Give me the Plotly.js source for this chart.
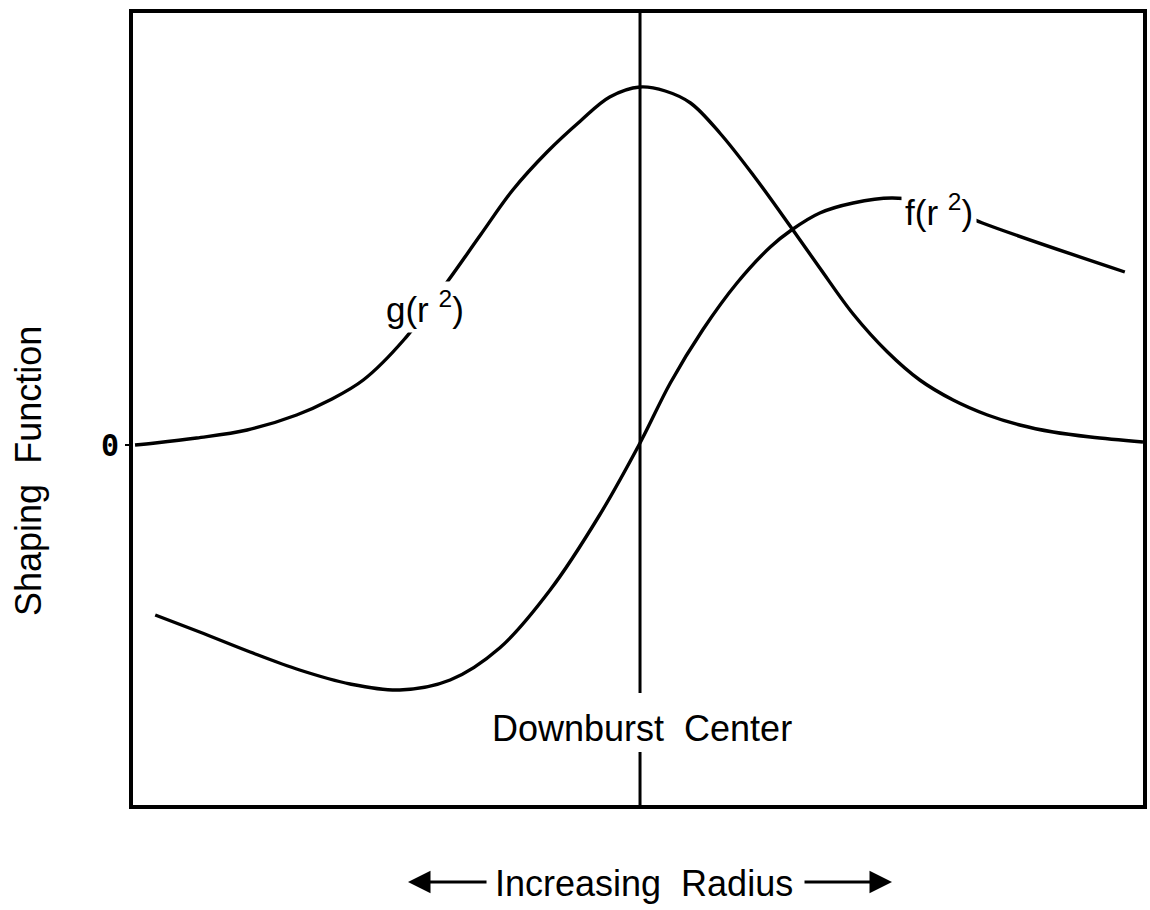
<!DOCTYPE html>
<html>
<head>
<meta charset="utf-8">
<script src="https://cdn.plot.ly/plotly-3.0.1.min.js"></script>
<style>html,body{margin:0;padding:0;background:#fff;}#chart{width:1150px;height:910px;}</style>
</head>
<body>
<div id="chart"></div>
<script>
// Radius relative to downburst center (arbitrary units)
const gRadius = [-50.0, -48.0, -43.9, -38.9, -34.0, -30.7, -27.4, -23.4, -19.1, -15.8, -12.6, -9.2, -5.9, -3.0, 0, 2.5, 5.0, 7.9, 11.2, 15.0, 17.8, 21.1, 24.5, 27.7, 31.0, 34.4, 37.6, 40.9, 44.6, 49.8];
const gValues = [0, 0.01, 0.035, 0.075, 0.15, 0.225, 0.325, 0.525, 0.815, 1.05, 1.275, 1.465, 1.62, 1.74, 1.79, 1.77, 1.71, 1.56, 1.35, 1.085, 0.885, 0.655, 0.465, 0.325, 0.225, 0.15, 0.10, 0.065, 0.04, 0.015];
const fRadius = [-48.0, -43.6, -38.6, -33.7, -28.7, -23.8, -18.8, -13.9, -8.9, -4.0, 0, 3.0, 6.2, 9.6, 12.9, 15.0, 17.8, 21.1, 25.0, 29.6, 33.9, 48.0];
const fValues = [-0.85, -0.935, -1.035, -1.125, -1.195, -1.225, -1.175, -1.015, -0.725, -0.35, 0.01, 0.31, 0.575, 0.81, 0.99, 1.075, 1.16, 1.21, 1.235, 1.20, 1.11, 0.865];
const yTickVals = [0];
const yTickText = ['0'];
const centerX = 0;

const font = 'Liberation Sans, Arial, sans-serif';
const lineStyle = {color: '#000', width: 3.4, shape: 'spline', smoothing: 1.0};

const traces = [
  {x: gRadius, y: gValues, mode: 'lines', line: lineStyle, name: 'g(r²)', hoverinfo: 'skip'},
  {x: fRadius, y: fValues, mode: 'lines', line: lineStyle, name: 'f(r²)', hoverinfo: 'skip'}
];

const layout = {
  width: 1150, height: 910,
  margin: {l: 133, r: 7, t: 13, b: 105},
  paper_bgcolor: '#fff', plot_bgcolor: '#fff',
  showlegend: false,
  xaxis: {range: [-50.2, 49.8], showgrid: false, zeroline: false, showticklabels: false, ticks: '',
          showline: true, mirror: true, linecolor: '#000', linewidth: 4},
  yaxis: {range: [-1.8, 2.16], showgrid: false, zeroline: false,
          tickvals: yTickVals, ticktext: yTickText, ticks: 'outside', ticklen: 4, tickwidth: 2, tickcolor: '#000',
          ticklabelstandoff: 0,
          tickfont: {family: 'DejaVu Sans Mono', size: 30, color: '#000', weight: 'bold'},
          showline: true, mirror: true, linecolor: '#000', linewidth: 4},
  shapes: [
    {type: 'line', xref: 'x', yref: 'y', x0: centerX, x1: centerX, y0: 2.16, y1: -1.24, line: {color: '#000', width: 3}},
    {type: 'line', xref: 'x', yref: 'y', x0: centerX, x1: centerX, y0: -1.535, y1: -1.8, line: {color: '#000', width: 3}}
  ],
  annotations: [
    {x: -21.3, y: 0.69, xref: 'x', yref: 'y', text: 'g(r <sup>2</sup>)', showarrow: false, bgcolor: '#fff', borderpad: 3,
     font: {family: font, size: 35, color: '#000'}},
    {x: 29.6, y: 1.175, xref: 'x', yref: 'y', text: 'f(r <sup>2</sup>)', showarrow: false, bgcolor: '#fff', borderpad: 3,
     font: {family: font, size: 35, color: '#000'}},
    {x: 0.2, y: -1.415, xref: 'x', yref: 'y', text: 'Downburst  Center', showarrow: false,
     font: {family: font, size: 36, color: '#000'}},
    {x: 0.506, y: -0.0997, xref: 'paper', yref: 'paper', xanchor: 'center', yanchor: 'middle', text: 'Increasing  Radius', showarrow: false,
     font: {family: font, size: 36, color: '#000'}},
    {x: 0.2723, y: -0.0972, xref: 'paper', yref: 'paper', text: '', showarrow: true, ax: 80, ay: 0,
     arrowhead: 2, arrowsize: 1.5, arrowwidth: 3, arrowcolor: '#000'},
    {x: 0.7515, y: -0.0972, xref: 'paper', yref: 'paper', text: '', showarrow: true, ax: -89, ay: 0,
     arrowhead: 2, arrowsize: 1.5, arrowwidth: 3, arrowcolor: '#000'},
    {x: -0.104, y: 0.4217, xref: 'paper', yref: 'paper', xanchor: 'center', yanchor: 'middle', text: 'Shaping  Function', showarrow: false, textangle: -90,
     font: {family: font, size: 36, color: '#000'}}
  ]
};

Plotly.newPlot('chart', traces, layout, {displayModeBar: false, staticPlot: true});
</script>
</body>
</html>
